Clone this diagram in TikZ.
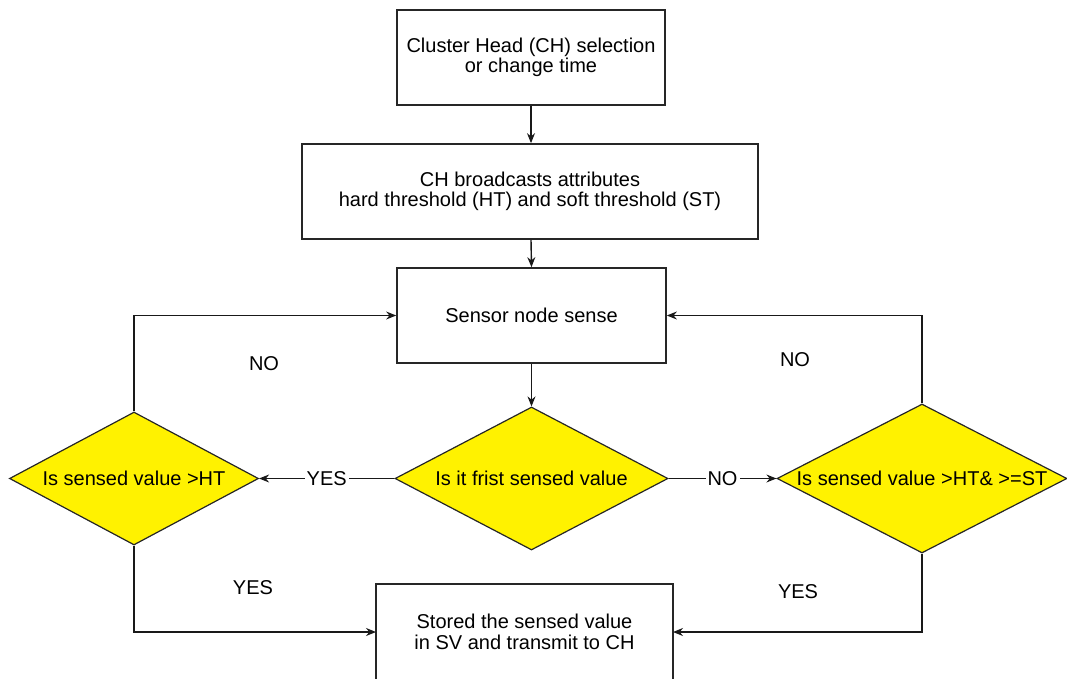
\documentclass[tikz,border=0pt]{standalone}
\usepackage{fontspec}
\setmainfont{Liberation Sans}
\usetikzlibrary{shapes.geometric,arrows.meta}
\begin{document}
\begin{tikzpicture}[x=1pt,y=-1pt,
  every node/.style={font=\fontsize{20}{20.5}\selectfont, text=black},
  procbox/.style={draw=black!85, line width=1.7pt, rectangle, align=center, inner sep=0pt},
  decide/.style={draw=black!85, line width=1.2pt, fill=yellow, diamond, inner sep=0pt},
  flow/.style={draw=black!90, line width=1.4pt, -{Stealth[length=10pt,width=8pt]}},
  lbl/.style={inner sep=2pt}
]
\useasboundingbox (0,0) rectangle (1067,679);
\clip (0,0) rectangle (1067,679);

% process boxes
\node[procbox, minimum width=268pt, minimum height=95pt] (select) at (531,57.5)
  {Cluster Head (CH) selection\\or change time};
\node[procbox, minimum width=456pt, minimum height=95pt] (bcast) at (530,191.5)
  {CH broadcasts attributes\\hard threshold (HT) and soft threshold (ST)};
\node[procbox, minimum width=269pt, minimum height=95pt] (sense) at (531.5,315.5)
  {Sensor node sense};
\node[procbox, minimum width=297pt, minimum height=120pt, anchor=north] (store) at (524.5,583)
  {};
\node[align=center] (storetxt) at (524.5,632) {Stored the sensed value\\in SV and transmit to CH};

% decisions
\node[decide, minimum width=273pt, minimum height=143pt] (first) at (531.5,478.5) {};
\node (firsttxt) at (531.5,478.5) {Is it frist sensed value};
\node[decide, minimum width=249pt, minimum height=133pt] (ht) at (134,478.5) {};
\node (httxt) at (134,478.5) {Is sensed value >HT};
\node[decide, minimum width=290pt, minimum height=149pt] (htst) at (922,478.5) {};
\node (htsttxt) at (922,478.5) {Is sensed value >HT\& >=ST};

% end points of the elbow connectors
\coordinate (storeL) at (376,632);
\coordinate (storeR) at (673,632);

% connectors
\draw[flow] (select.south) -- (select.south |- bcast.north);
\draw[flow] (bcast.south -| select.south) -- (sense.north);
\draw[flow] (sense.south) -- (first.north);
\draw[flow] (first.west) -- node[lbl, fill=white] {YES} (ht.east);
\draw[flow] (first.east) -- node[lbl, fill=white] {NO} (htst.west);
\draw[flow] (ht.north) |- (sense.west);
\draw[flow] (htst.north) |- (sense.east);
\draw[flow] (ht.south) |- (storeL);
\draw[flow] (htst.south) |- (storeR);

% branch labels
\node (no1) at (264,364) {NO};
\node (no2) at (795,360) {NO};
\node (yes1) at (253,588) {YES};
\node (yes2) at (798,592) {YES};
\end{tikzpicture}
\end{document}
